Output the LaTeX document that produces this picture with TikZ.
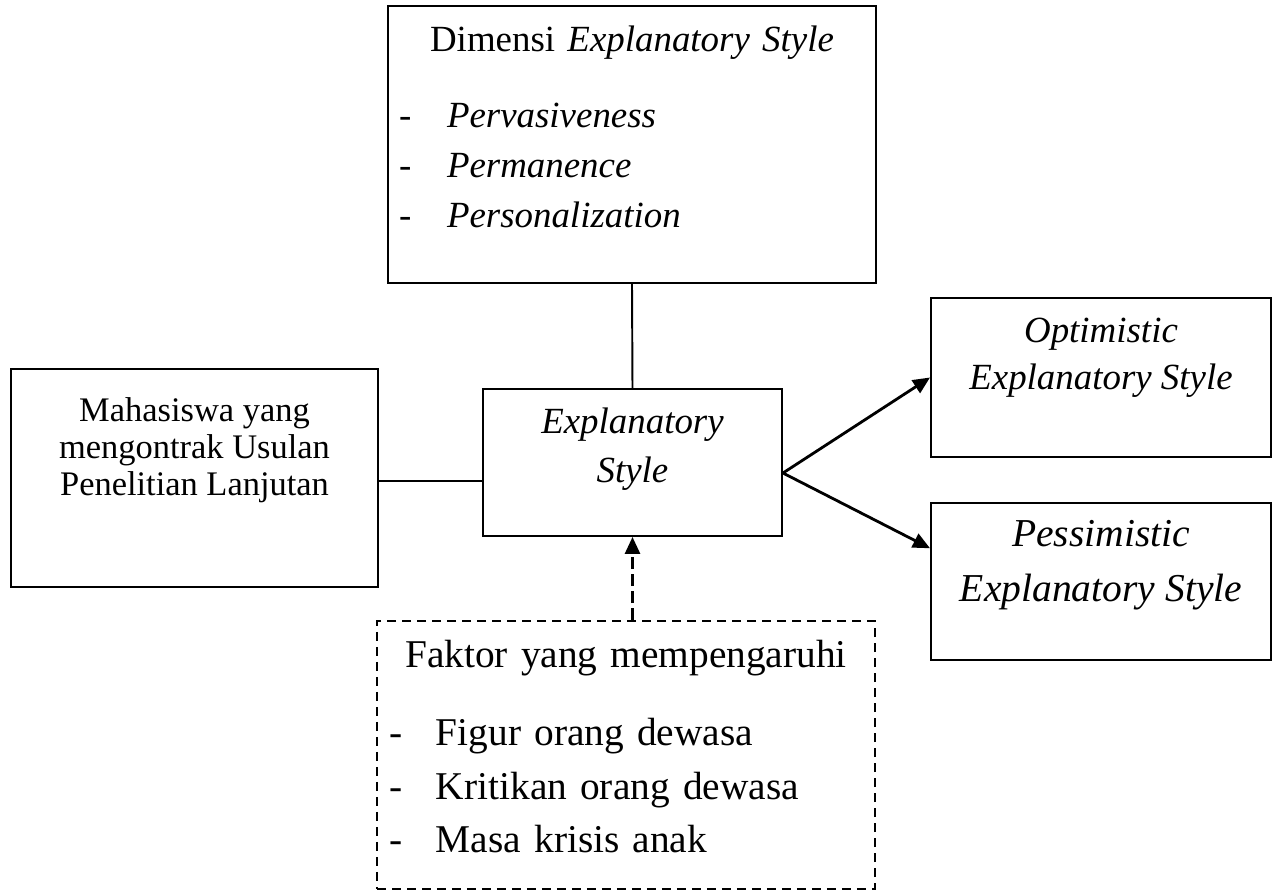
\documentclass[tikz,border=0pt]{standalone}
\usepackage{fontspec}
\setmainfont{Liberation Serif}
\usepackage{tikz}
\usetikzlibrary{arrows.meta,positioning}
\newcommand{\dashmark}[1]{\makebox[#1][l]{-}}
\newcommand{\bottompad}[1]{\rule[-#1]{0pt}{0pt}}

\begin{document}
\begin{tikzpicture}[
    box/.style={draw, line width=1.1pt, inner sep=0pt, align=center},
    dashbox/.style={draw, line width=1.1pt, dash pattern=on 0.18cm off 0.12cm, inner sep=0pt},
    link/.style={line width=1.1pt},
    arr/.style={-{Triangle[length=0.34cm,width=0.3cm]}, line width=1.6pt},
]
    \useasboundingbox (0,0) rectangle (25.56,17.8);

    % Dimensions of explanatory style (top)
    \node[box, minimum width=9.76cm, minimum height=5.54cm, text width=9.32cm, align=left,
          font=\fontsize{21}{28.5}\selectfont] (dimensi) at (12.64,14.91) {\makebox[9.32cm]{Dimensi \textit{Explanatory Style}}\\[0.52cm]
        \dashmark{0.96cm}\textit{Pervasiveness}\\
        \dashmark{0.96cm}\textit{Permanence}\\
        \dashmark{0.96cm}\textit{Personalization}\bottompad{0.7cm}};

    % Central box
    \node[box, minimum width=5.98cm, minimum height=2.94cm,
          font=\fontsize{21}{27.9}\selectfont\itshape] (expl) at (12.65,8.55) {Explanatory\\Style\bottompad{0.7cm}};

    % Subjects
    \node[box, minimum width=7.34cm, minimum height=4.36cm,
          font=\fontsize{19.6}{21}\selectfont] (mhs) at (3.89,8.24) {Mahasiswa yang\\mengontrak Usulan\\Penelitian Lanjutan\bottompad{1.27cm}};

    % Outcomes
    \node[box, minimum width=6.8cm, minimum height=3.18cm,
          font=\fontsize{21}{26.7}\selectfont\itshape] (opt) at (22.02,10.25) {Optimistic\\Explanatory Style\bottompad{0.94cm}};
    \node[box, minimum width=6.8cm, minimum height=3.14cm,
          font=\fontsize{22.5}{31.3}\selectfont\itshape] (pes) at (22.02,6.17) {Pessimistic\\Explanatory Style\bottompad{0.82cm}};

    % Influencing factors (dashed)
    \node[dashbox, minimum width=9.96cm, minimum height=5.36cm, text width=9.48cm, align=left,
          font=\fontsize{22.4}{30.4}\selectfont] (faktor) at (12.52,2.70) {\makebox[9.48cm]{Faktor yang mempengaruhi}\\[0.49cm]
        \dashmark{0.94cm}Figur orang dewasa\\
        \dashmark{0.94cm}Kritikan orang dewasa\\
        \dashmark{0.94cm}Masa krisis anak\bottompad{0.34cm}};

    % Connectors
    \draw[link] (dimensi.south) -- (expl.north);
    \draw[link] (mhs.-1.2) -- (mhs.-1.2 -| expl.west);
    \draw[arr] (expl.-4.4) -- (opt.west);
    \draw[arr] (expl.-4.4) -- (pes.169.5);
    \draw[arr, dash pattern=on 0.24cm off 0.1cm] (faktor.north -| expl.south) -- (expl.south);

\end{tikzpicture}
\end{document}
